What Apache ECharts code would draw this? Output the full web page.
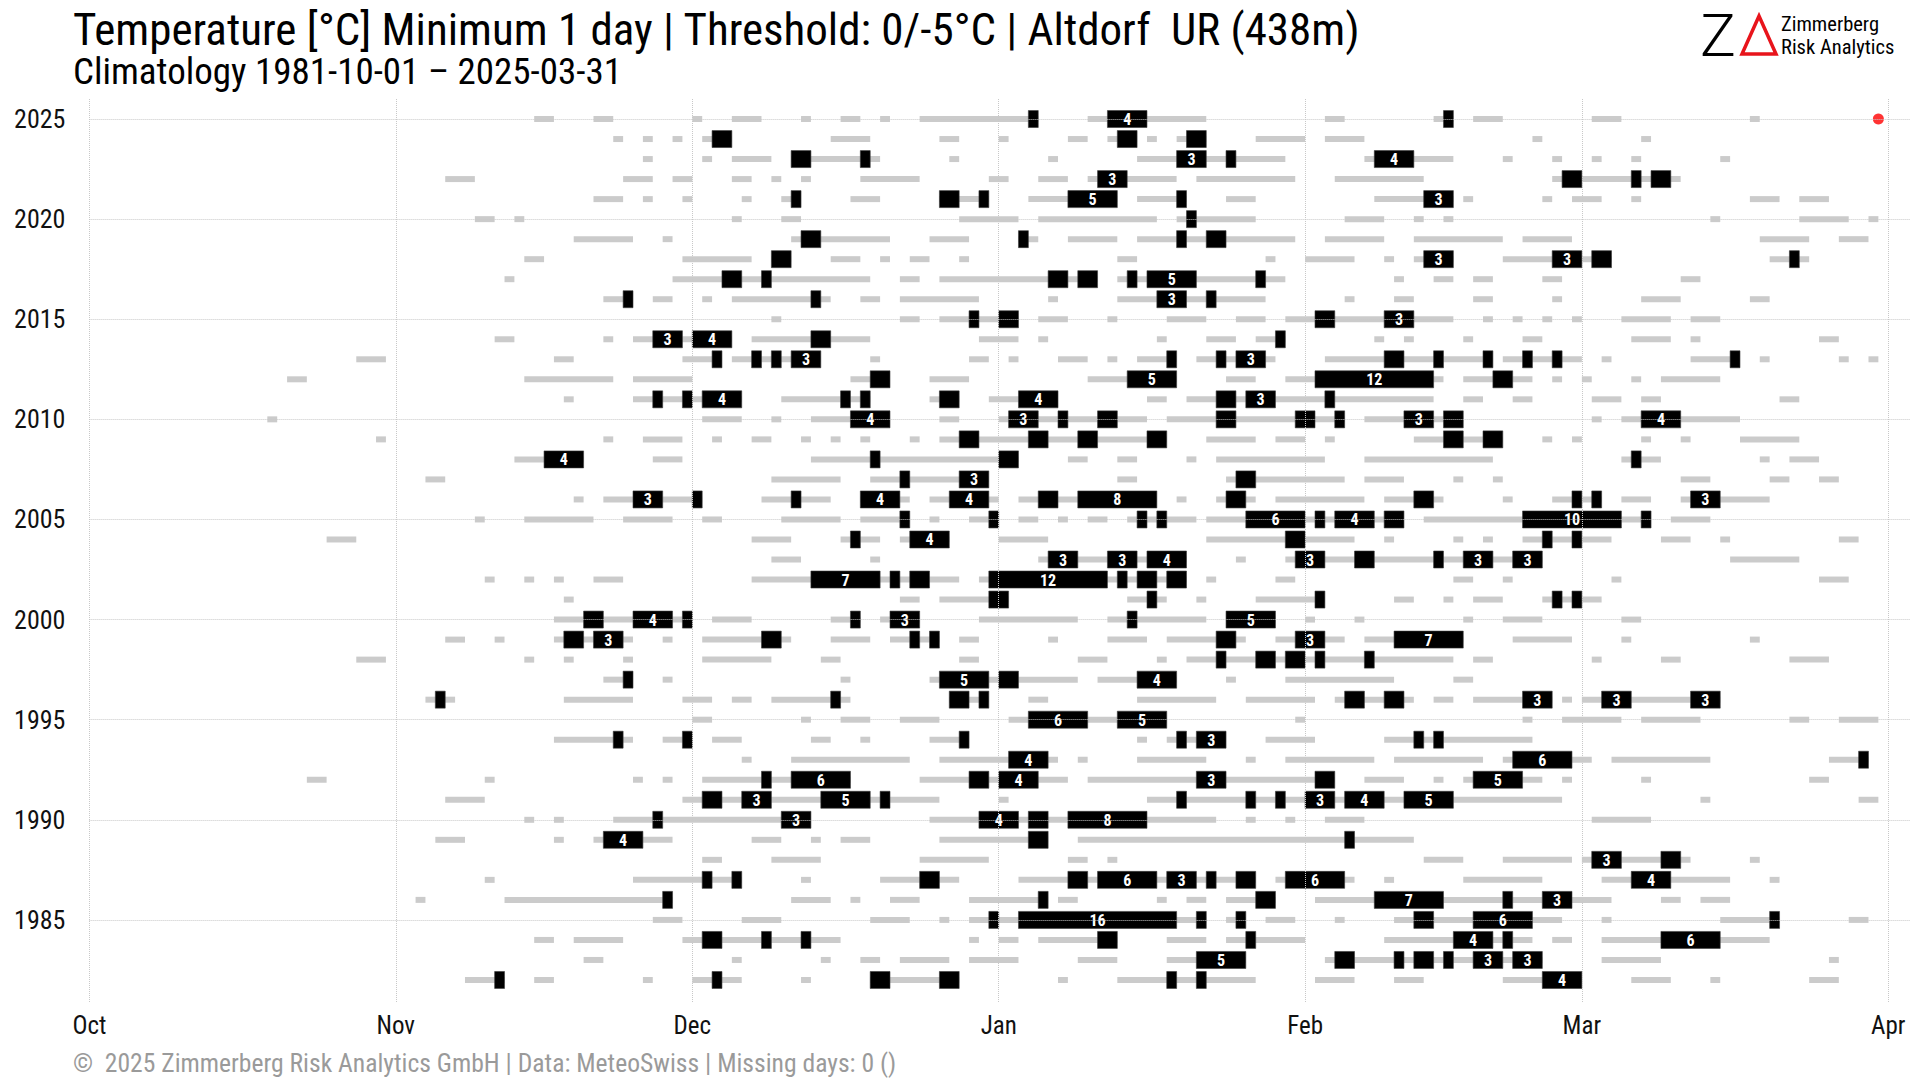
<!DOCTYPE html>
<html><head><meta charset="utf-8">
<script src="https://cdn.jsdelivr.net/npm/echarts@6/dist/echarts.min.js"></script>
<style>html,body{margin:0;padding:0;background:#fff}#c{width:1920px;height:1080px}</style>
</head><body><div id="c"></div>
<script>
// Day index counted from 1 October (0) to 1 April (182)
const monthStarts = [0, 31, 61, 92, 123, 151, 182];
const monthLabels = ['Oct', 'Nov', 'Dec', 'Jan', 'Feb', 'Mar', 'Apr'];
const yearTicks = [1985, 1990, 1995, 2000, 2005, 2010, 2015, 2020, 2025];
const lastObs = [181, 2025];

// Runs of days with Tmin < 0 °C : [winter year, [[firstDay, lastDay], ...]]
const frostRuns = [
 [2025, [[45,46],[51,52],[61,61],[65,67],[72,72],[76,77],[80,80],[84,95],[101,112],[125,126],[136,137],[140,142],[152,154],[168,168]]],
 [2024, [[53,53],[56,56],[59,59],[62,64],[75,78],[86,87],[92,92],[99,100],[103,105],[107,107],[110,112],[118,122],[125,128],[146,146],[157,157]]],
 [2023, [[56,56],[62,62],[65,68],[71,79],[87,87],[97,97],[106,120],[129,137],[143,143],[148,148],[152,152],[156,156],[165,165]]],
 [2022, [[36,38],[54,56],[59,60],[65,66],[69,69],[72,72],[78,83],[91,92],[96,98],[101,109],[112,121],[126,134],[148,160]]],
 [2021, [[51,53],[56,56],[60,60],[66,66],[70,71],[77,79],[86,90],[95,103],[106,110],[115,117],[130,137],[139,139],[147,147],[150,152],[156,156],[168,170],[173,175]]],
 [2020, [[39,40],[43,43],[65,65],[70,71],[88,93],[96,107],[110,117],[127,130],[134,134],[137,137],[164,164],[173,177],[180,180]]],
 [2019, [[49,54],[58,58],[71,80],[85,88],[94,95],[99,103],[106,121],[125,130],[134,142],[145,149],[169,173],[177,179]]],
 [2018, [[44,45],[60,66],[69,70],[75,77],[80,80],[83,84],[88,88],[104,105],[119,119],[123,127],[131,131],[134,137],[143,153],[170,173]]],
 [2017, [[42,42],[59,78],[82,83],[86,101],[104,120],[132,132],[136,137],[140,141],[147,148],[161,162]]],
 [2016, [[52,54],[57,58],[62,62],[65,74],[78,79],[82,89],[97,97],[104,118],[127,127],[132,133],[140,141],[148,148],[157,160],[168,169]]],
 [2015, [[69,69],[82,83],[86,93],[96,98],[103,103],[109,112],[116,118],[121,137],[141,141],[144,144],[147,147],[150,150],[155,159],[162,164]]],
 [2014, [[41,42],[52,52],[55,64],[67,78],[90,93],[96,96],[108,108],[113,115],[118,120],[130,130],[133,133],[139,139],[145,146],[156,159],[162,162],[175,176]]],
 [2013, [[27,29],[47,48],[60,63],[65,73],[79,79],[89,90],[93,93],[98,100],[103,103],[106,109],[112,119],[125,141],[143,150],[153,153],[162,166],[169,169],[177,177],[180,180]]],
 [2012, [[20,21],[44,52],[55,60],[77,80],[85,88],[101,109],[115,117],[121,136],[139,145],[148,148],[151,151],[156,156],[159,164]]],
 [2011, [[48,48],[55,65],[70,78],[85,87],[91,97],[107,108],[111,135],[139,140],[144,145],[152,154],[157,158],[171,172]]],
 [2010, [[18,18],[62,65],[69,69],[73,80],[86,87],[92,106],[109,126],[129,138],[152,152],[155,166]]],
 [2009, [[29,29],[52,52],[56,59],[63,63],[67,68],[72,72],[75,75],[78,78],[83,83],[86,108],[113,117],[120,122],[125,125],[134,142],[147,147],[150,150],[157,157],[161,161],[167,172]]],
 [2008, [[43,49],[57,59],[73,93],[99,100],[104,105],[111,111],[114,124],[129,141],[155,158],[169,169],[172,174]]],
 [2007, [[34,35],[69,75],[79,90],[104,105],[115,126],[129,132],[138,138],[142,142],[161,163],[170,171],[175,176]]],
 [2006, [[49,49],[52,61],[68,74],[78,82],[85,91],[94,107],[110,110],[114,117],[120,128],[131,136],[143,143],[148,152],[155,157],[161,169]]],
 [2005, [[39,39],[44,50],[54,58],[62,63],[70,75],[78,82],[85,85],[89,91],[94,95],[98,98],[101,102],[105,111],[113,132],[135,157],[160,163]]],
 [2004, [[24,26],[67,70],[76,79],[82,86],[92,96],[113,127],[131,131],[138,138],[141,141],[145,153],[159,161],[165,165],[177,178]]],
 [2003, [[69,71],[79,79],[96,110],[116,116],[121,146],[166,172]]],
 [2002, [[40,40],[44,44],[47,47],[51,53],[67,87],[90,110],[113,113],[120,121],[138,139],[143,143],[154,154],[175,177]]],
 [2001, [[48,48],[82,83],[86,92],[105,108],[112,112],[118,124],[132,133],[137,137],[140,142],[147,152]]],
 [2000, [[47,60],[63,66],[75,77],[80,83],[90,99],[103,112],[115,119],[123,123],[128,128],[139,139],[143,146],[155,156]]],
 [1999, [[36,37],[41,41],[47,54],[58,58],[62,70],[75,78],[81,85],[88,89],[97,97],[103,106],[109,116],[120,126],[129,138],[144,149],[155,155],[168,168]]],
 [1998, [[27,29],[44,44],[48,48],[54,54],[62,68],[74,75],[88,89],[100,102],[108,108],[111,137],[140,141],[152,152],[159,160],[172,175]]],
 [1997, [[52,54],[58,58],[76,76],[85,99],[102,109],[115,115],[121,131],[138,139]]],
 [1996, [[34,36],[48,54],[60,62],[65,66],[69,76],[87,90],[95,96],[106,113],[117,123],[126,133],[136,137],[140,147],[149,149],[151,164]]],
 [1995, [[61,62],[72,72],[76,78],[82,85],[93,108],[122,122],[145,145],[149,154],[157,162],[172,173],[177,180]]],
 [1994, [[47,54],[58,60],[63,65],[73,74],[78,78],[85,88],[106,106],[109,114],[119,123],[131,145]]],
 [1993, [[66,66],[71,82],[86,97],[100,100],[106,112],[117,117],[121,129],[132,140],[143,151],[154,163],[176,179]]],
 [1992, [[22,23],[40,40],[55,55],[58,58],[62,76],[84,98],[101,125],[129,132],[136,136],[139,146],[149,149],[157,157],[174,175]]],
 [1991, [[36,39],[60,85],[92,92],[107,148],[163,163],[179,180]]],
 [1990, [[44,44],[47,47],[53,72],[85,113],[117,117],[121,121],[125,128],[152,157]]],
 [1989, [[35,37],[47,47],[51,58],[67,69],[73,73],[76,78],[86,96],[100,133]]],
 [1988, [[62,63],[69,73],[84,90],[99,100],[103,103],[135,138],[143,149],[151,161],[168,168]]],
 [1987, [[40,40],[55,65],[72,72],[80,87],[94,117],[120,127],[131,131],[139,146],[153,165],[170,170]]],
 [1986, [[33,33],[42,58],[71,74],[77,77],[81,83],[89,96],[98,99],[108,108],[111,112],[115,119],[124,153],[159,160],[163,165]]],
 [1985, [[57,59],[66,69],[79,82],[86,86],[89,112],[115,116],[119,121],[126,126],[132,148],[153,153],[165,170],[178,179]]],
 [1984, [[45,46],[49,53],[60,75],[89,89],[92,93],[96,103],[109,112],[115,122],[131,145],[148,149],[153,169]]],
 [1983, [[50,51],[65,65],[74,74],[78,79],[82,86],[89,93],[100,103],[109,116],[125,146],[153,158],[176,176]]],
 [1982, [[38,41],[45,46],[56,56],[61,65],[72,72],[79,87],[98,98],[104,117],[124,127],[132,134],[143,150],[156,159],[164,164],[174,176]]]
];

// Runs of days with Tmin < -5 °C
const coldRuns = [
 [2025, [[95,95],[103,106],[137,137]]],
 [2024, [[63,64],[104,105],[111,112]]],
 [2023, [[71,72],[78,78],[110,112],[115,115],[130,133]]],
 [2022, [[102,104],[149,150],[156,156],[158,159]]],
 [2021, [[71,71],[86,87],[90,90],[99,103],[110,110],[135,137]]],
 [2020, [[111,111]]],
 [2019, [[72,73],[94,94],[110,110],[113,114]]],
 [2018, [[69,70],[135,137],[148,150],[152,153],[172,172]]],
 [2017, [[64,65],[68,68],[97,98],[100,101],[105,105],[107,111],[118,118]]],
 [2016, [[54,54],[73,73],[108,110],[113,113]]],
 [2015, [[89,89],[92,93],[124,125],[131,133]]],
 [2014, [[57,59],[61,64],[73,74],[120,120]]],
 [2013, [[63,63],[67,67],[69,69],[71,73],[109,109],[114,114],[116,118],[131,132],[136,136],[141,141],[145,145],[148,148],[166,166]]],
 [2012, [[79,80],[105,109],[124,135],[142,143]]],
 [2011, [[57,57],[60,60],[62,65],[76,76],[78,78],[86,87],[94,97],[114,115],[117,119],[125,125]]],
 [2010, [[77,80],[93,95],[98,98],[102,103],[114,115],[122,123],[126,126],[133,135],[137,138],[157,160]]],
 [2009, [[88,89],[95,96],[100,101],[107,108],[137,138],[141,142]]],
 [2008, [[46,49],[79,79],[92,93],[156,156]]],
 [2007, [[82,82],[88,90],[116,117]]],
 [2006, [[55,57],[61,61],[71,71],[78,81],[87,90],[96,97],[100,107],[115,116],[134,135],[150,150],[152,152],[162,164]]],
 [2005, [[82,82],[91,91],[106,106],[108,108],[117,122],[124,124],[126,129],[131,132],[145,154],[157,157]]],
 [2004, [[77,77],[83,86],[121,122],[147,147],[150,150]]],
 [2003, [[97,99],[103,105],[107,110],[122,124],[128,129],[136,136],[139,141],[144,146]]],
 [2002, [[73,79],[81,81],[83,84],[91,102],[104,104],[106,107],[109,110]]],
 [2001, [[91,92],[107,107],[124,124],[148,148],[150,150]]],
 [2000, [[50,51],[55,58],[60,60],[77,77],[81,83],[105,105],[115,119]]],
 [1999, [[48,49],[51,53],[68,69],[83,83],[85,85],[114,115],[122,124],[132,138]]],
 [1998, [[114,114],[118,119],[121,122],[124,124],[129,129]]],
 [1997, [[54,54],[86,90],[92,93],[106,109]]],
 [1996, [[35,35],[75,75],[87,88],[90,90],[127,128],[131,132],[145,147],[153,155],[162,164]]],
 [1995, [[95,100],[104,108]]],
 [1994, [[53,53],[60,60],[88,88],[110,110],[112,114],[134,134],[136,136]]],
 [1993, [[93,96],[144,149],[179,179]]],
 [1992, [[68,68],[71,76],[89,90],[92,95],[112,114],[124,125],[140,144]]],
 [1991, [[62,63],[66,68],[74,78],[80,80],[110,110],[117,117],[120,120],[123,125],[127,130],[133,137]]],
 [1990, [[57,57],[70,72],[90,93],[95,96],[99,106]]],
 [1989, [[52,55],[95,96],[127,127]]],
 [1988, [[152,154],[159,160]]],
 [1987, [[62,62],[65,65],[84,85],[99,100],[102,107],[109,111],[113,113],[116,117],[121,126],[156,159]]],
 [1986, [[58,58],[96,96],[118,119],[130,136],[143,143],[147,149]]],
 [1985, [[91,91],[94,109],[112,112],[116,116],[134,135],[140,145],[170,170]]],
 [1984, [[62,63],[68,68],[72,72],[102,103],[117,117],[138,141],[143,143],[159,164]]],
 [1983, [[112,116],[126,127],[132,132],[134,135],[137,137],[140,142],[144,146]]],
 [1982, [[41,41],[63,63],[79,80],[86,87],[109,109],[112,112],[147,150]]]
];

const FONT = "'Roboto Condensed','Liberation Sans Narrow','DejaVu Sans Condensed',Roboto,sans-serif";

function flatten(runs) {
  const out = [];
  runs.forEach(function (r) { r[1].forEach(function (s) { out.push([s[0], s[1], r[0]]); }); });
  return out;
}
const frostData = flatten(frostRuns);
const coldData = flatten(coldRuns);

const chart = echarts.init(document.getElementById('c'), null, {renderer: 'svg', width: 1920, height: 1080});

const gridLines = []
  .concat(monthStarts.map(function (v, i) {
    return {xAxis: v, label: {formatter: monthLabels[i], position: 'start', distance: 11}};
  }))
  .concat(yearTicks.map(function (y) {
    return {yAxis: y, label: {formatter: String(y), position: 'start', distance: 24, fontSize: 26}};
  }));

const option = {
  animation: false,
  backgroundColor: '#ffffff',
  grid: {left: 89.4, right: 10, top: 98, bottom: 78},
  xAxis: {type: 'value', min: 0, max: 184.2, axisLine: {show: false}, axisTick: {show: false},
          axisLabel: {show: false}, splitLine: {show: false}},
  yAxis: {type: 'value', min: 1980.9, max: 2026.05, axisLine: {show: false}, axisTick: {show: false},
          axisLabel: {show: false}, splitLine: {show: false}},
  graphic: [
    {type: 'text', left: 73, top: 7, style: {text: 'Temperature [°C] Minimum 1 day | Threshold: 0/-5°C | Altdorf  UR (438m)', font: '45px ' + FONT, lineHeight: 42, fill: '#000'}},
    {type: 'text', left: 73, top: 53, style: {text: 'Climatology 1981-10-01 – 2025-03-31', font: '37px ' + FONT, lineHeight: 34, fill: '#000'}},
    {type: 'text', left: 73, top: 1050, style: {text: '©  2025 Zimmerberg Risk Analytics GmbH | Data: MeteoSwiss | Missing days: 0 ()', font: '25.6px ' + FONT, fill: '#9a9a9a'}},
    {type: 'text', left: 1700, top: 5, style: {text: 'Z', font: '300 60px Roboto, sans-serif', fill: '#000'}},
    {type: 'polygon', shape: {points: [[1759, 16], [1776, 54], [1742, 54]]}, style: {fill: 'none', stroke: '#e8141b', lineWidth: 3.5}},
    {type: 'text', left: 1781, top: 13, style: {text: 'Zimmerberg', font: '20.5px ' + FONT, fill: '#000'}},
    {type: 'text', left: 1781, top: 36, style: {text: 'Risk Analytics', font: '20.5px ' + FONT, fill: '#000'}}
  ],
  series: [
    {
      type: 'scatter', data: [], silent: true, z: 1,
      markLine: {
        silent: true, symbol: ['none', 'none'], animation: false,
        lineStyle: {color: '#c8c8c8', type: 'dotted', width: 1},
        label: {show: true, color: '#111', fontSize: 25, fontFamily: FONT},
        emphasis: {disabled: true},
        data: gridLines
      }
    },
    {
      type: 'custom', name: 'frost', z: 2, silent: true,
      data: frostData,
      encode: {x: [0, 1], y: 2},
      renderItem: function (params, api) {
        const a = api.value(0), b = api.value(1), yr = api.value(2);
        const p0 = api.coord([a, yr]);
        const p1 = api.coord([b + 1, yr]);
        const h = 6;
        return {type: 'rect', shape: {x: p0[0], y: p0[1] - h / 2, width: p1[0] - p0[0], height: h},
                style: {fill: '#cbcbcb'}};
      }
    },
    {
      type: 'custom', name: 'cold', z: 3, silent: true,
      data: coldData,
      encode: {x: [0, 1], y: 2},
      renderItem: function (params, api) {
        const a = api.value(0), b = api.value(1), yr = api.value(2);
        const p0 = api.coord([a, yr]);
        const p1 = api.coord([b + 1, yr]);
        const h = 17;
        const len = b - a + 1;
        const children = [{type: 'rect', shape: {x: p0[0], y: p0[1] - h / 2, width: p1[0] - p0[0], height: h},
                           style: {fill: '#000', stroke: '#3a3a3a', lineWidth: 0.6}}];
        if (len >= 3) {
          children.push({type: 'text', style: {text: String(len), x: (p0[0] + p1[0]) / 2, y: p0[1] + 0.5,
                         align: 'center', verticalAlign: 'middle', fill: '#fff', font: 'bold 16px ' + FONT}});
        }
        return {type: 'group', children: children};
      }
    },
    {
      type: 'scatter', z: 4, silent: true, data: [lastObs], symbol: 'circle', symbolSize: 11,
      itemStyle: {color: '#ff0000'}
    }
  ]
};
chart.setOption(option);
</script>
</body></html>
